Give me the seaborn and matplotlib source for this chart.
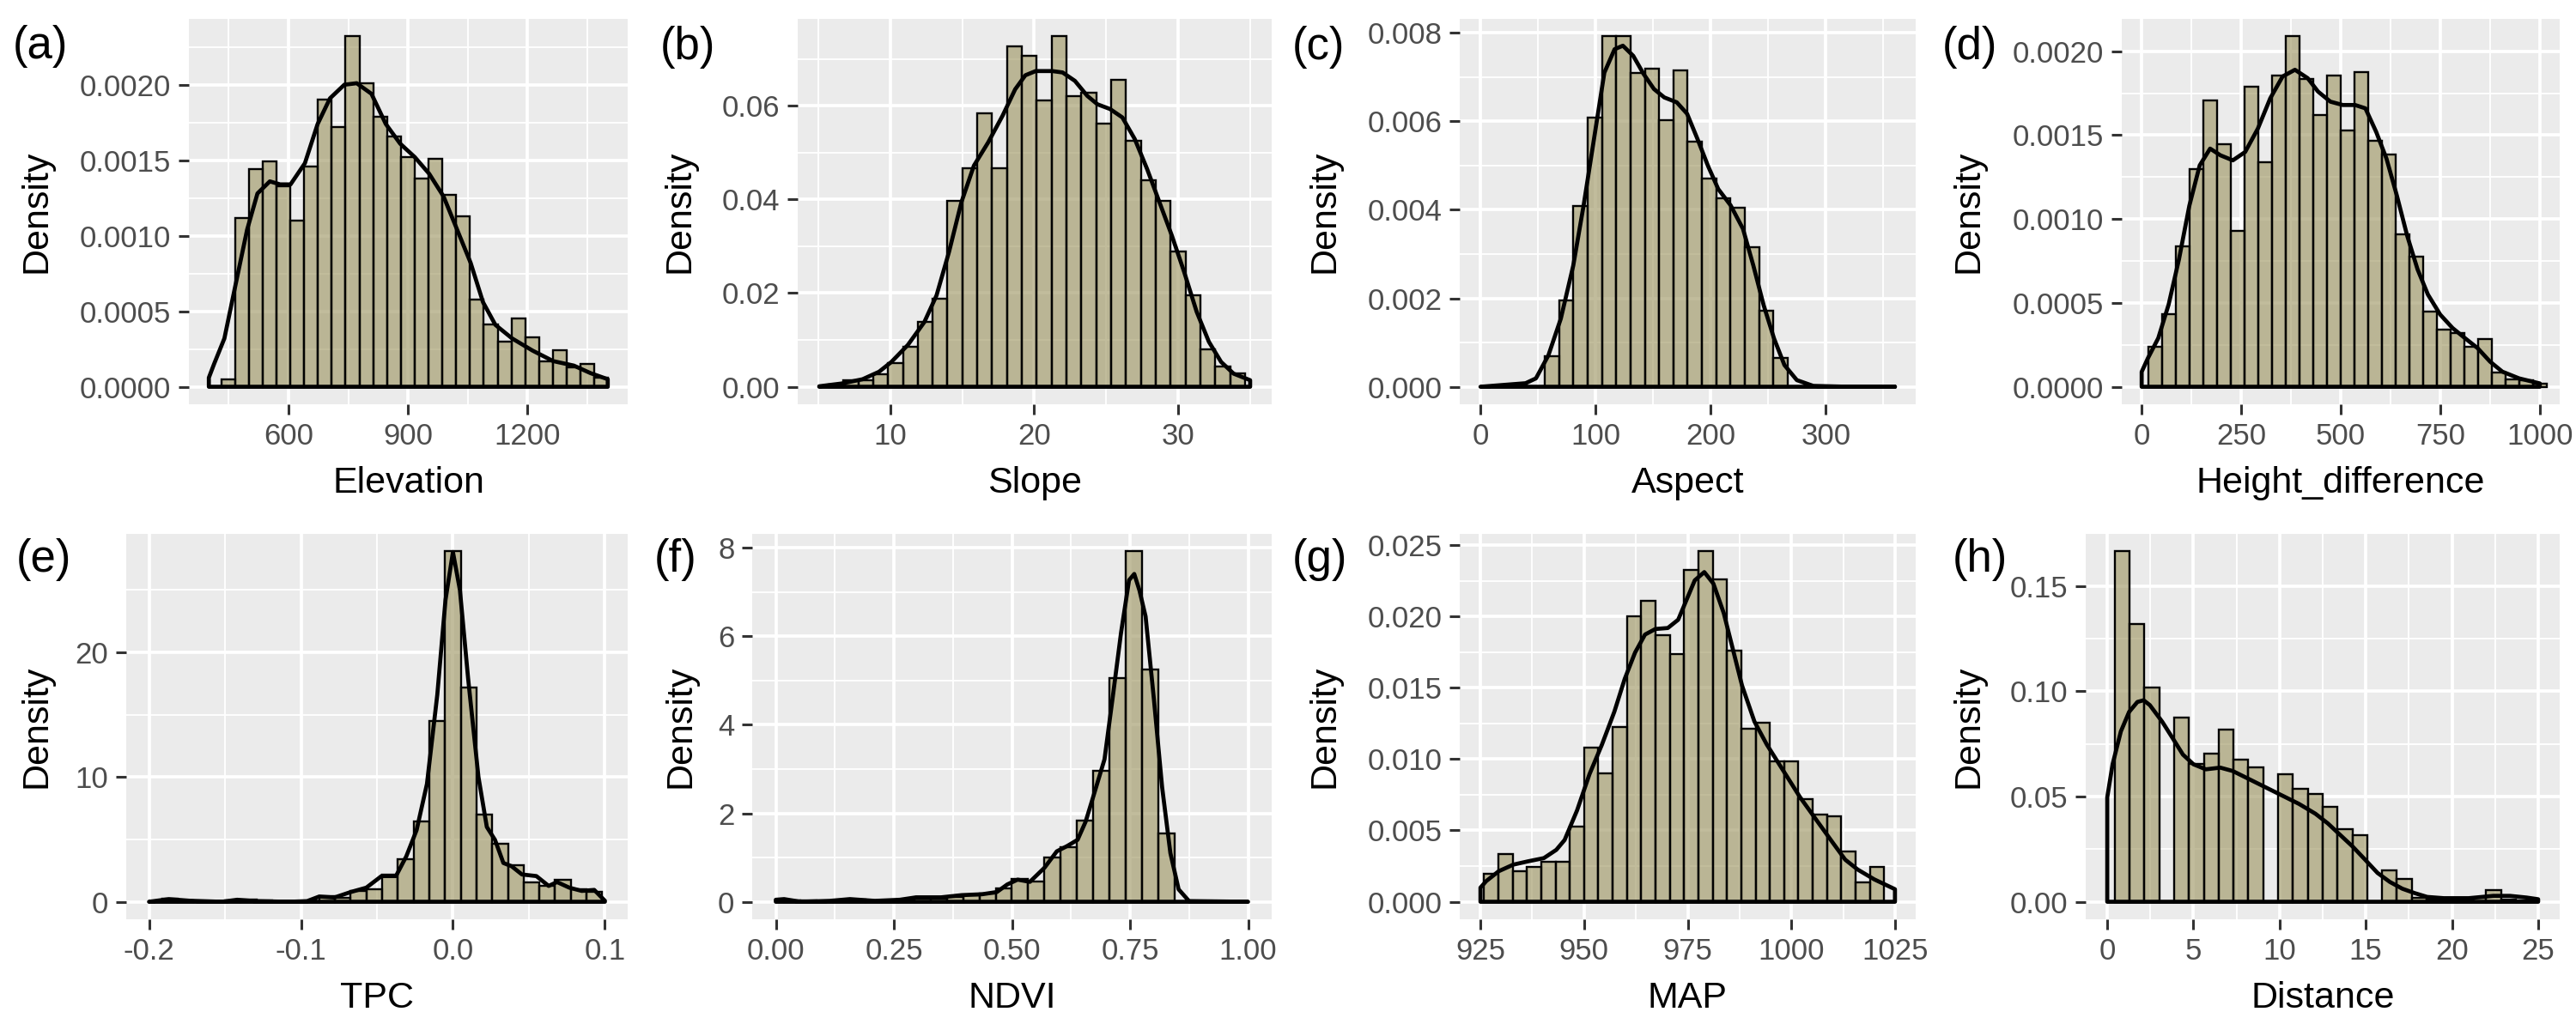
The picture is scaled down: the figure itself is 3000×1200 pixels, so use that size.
import numpy as np
import pandas as pd
import seaborn as sns
import matplotlib.pyplot as plt
from matplotlib.colors import to_rgba
from matplotlib.ticker import FixedLocator, FixedFormatter, MultipleLocator

# ---------------- values (density scale) ----------------
# (a) Elevation
elev_start, elev_width = 430.8, 34.7
elev_heights = [0.00005, 0.00112, 0.00144, 0.00149, 0.00133, 0.00110, 0.00146, 0.00190,
                0.00172, 0.00232, 0.00201, 0.00179, 0.00166, 0.00152, 0.00138, 0.00151,
                0.00127, 0.00113, 0.00058, 0.00041, 0.00030, 0.00045, 0.00033, 0.00017,
                0.00024, 0.00013, 0.00015, 0.00006]
elev_kde_x = [400, 413, 439, 465, 496, 522, 553, 579, 605, 641, 673, 704, 740, 771, 808,
              844, 880, 917, 953, 989, 1020, 1057, 1088, 1119, 1161, 1212, 1264, 1316, 1358, 1401]
elev_kde_y = [0.00006, 0.00015, 0.00032, 0.00065, 0.00104, 0.00128, 0.00136, 0.00134, 0.00134,
              0.00148, 0.00174, 0.00191, 0.00200, 0.00201, 0.00194, 0.00174, 0.00161, 0.00152,
              0.00141, 0.00126, 0.00106, 0.00082, 0.00056, 0.00041, 0.00032, 0.00024, 0.00017,
              0.00014, 0.00009, 0.00005]

# (b) Slope
slope_start, slope_width = 5.69, 1.0345
slope_heights = [0.0005, 0.0014, 0.0014, 0.0026, 0.0050, 0.0085, 0.0138, 0.0188, 0.0396, 0.0467,
                 0.0583, 0.0467, 0.0727, 0.0706, 0.0611, 0.0748, 0.0620, 0.0627, 0.0562, 0.0656,
                 0.0525, 0.0440, 0.0396, 0.0288, 0.0195, 0.0080, 0.0043, 0.0028]
slope_kde_x = [5.04, 6.61, 8.05, 9.2, 10.06, 11.2, 12.35, 13.2, 14.07, 14.93, 15.8, 16.8, 17.8,
               18.67, 19.38, 20.1, 21.25, 21.97, 22.83, 23.69, 24.4, 25.27, 26.13, 26.99, 27.85,
               28.71, 29.57, 30.43, 31.3, 32.15, 33.0, 33.87, 35.02]
slope_kde_y = [0.0001, 0.0007, 0.0016, 0.0032, 0.0053, 0.0089, 0.0138, 0.0195, 0.0288, 0.0394,
               0.0472, 0.0522, 0.0579, 0.0635, 0.0665, 0.0674, 0.0674, 0.0671, 0.0653, 0.0621,
               0.0603, 0.0593, 0.0575, 0.0529, 0.0465, 0.0394, 0.0323, 0.0245, 0.0160, 0.0096,
               0.0053, 0.0028, 0.0014]

# (c) Aspect
aspect_start, aspect_width = 55.86, 12.41
aspect_heights = [0.00070, 0.00195, 0.00409, 0.00608, 0.00792, 0.00792, 0.00709, 0.00720,
                  0.00602, 0.00716, 0.00554, 0.00471, 0.00427, 0.00405, 0.00316, 0.00172, 0.00065]
aspect_kde_x = [0, 19.4, 39.2, 48.2, 59, 69.8, 80.6, 89.6, 98.6, 107.6, 116.5, 123.7, 132.7,
                141.7, 150.7, 159.7, 170.5, 179.5, 188.5, 197.5, 206.5, 217.3, 228, 237, 246,
                255, 264, 274.8, 289, 320, 360]
aspect_kde_y = [0.0, 0.00004, 0.00008, 0.00019, 0.00071, 0.00154, 0.00274, 0.0041, 0.0056,
                0.0071, 0.00763, 0.00771, 0.00748, 0.00707, 0.00673, 0.00654, 0.00643, 0.00617,
                0.0056, 0.0050, 0.00447, 0.0041, 0.00357, 0.00274, 0.00184, 0.00109, 0.00049,
                0.00015, 0.00002, 0.0, 0.0]

# (d) Height_difference
hd_start, hd_width = 17.24, 34.48
hd_heights = [0.000238, 0.000433, 0.000839, 0.001296, 0.001706, 0.001446, 0.000929, 0.00179,
              0.00134, 0.001857, 0.002089, 0.001833, 0.001619, 0.001857, 0.00153, 0.001877,
              0.001468, 0.001383, 0.000907, 0.000778, 0.00045, 0.000341, 0.000321, 0.000238,
              0.000282, 0.000085, 0.000046, 0.00004, 0.00002]
hd_kde_x = [0, 15.6, 41.7, 67.7, 93.7, 119.8, 145.8, 171.9, 197.9, 229, 260, 292, 323, 354, 385,
            417, 443, 474, 505, 536, 562, 589, 615, 641, 667, 693, 719, 750, 781, 812, 844, 875,
            906, 948, 1000]
hd_kde_y = [0.000089, 0.00017, 0.00029, 0.00049, 0.00076, 0.00108, 0.00132, 0.00142, 0.00138,
            0.00135, 0.0014, 0.00154, 0.00172, 0.00185, 0.00189, 0.00184, 0.00176, 0.0017,
            0.00168, 0.00168, 0.00166, 0.00152, 0.00136, 0.00114, 0.0009, 0.0007, 0.00055,
            0.00043, 0.00035, 0.00029, 0.00023, 0.00015, 0.00009, 0.00005, 0.00002]

# (e) TPC
tpc_start, tpc_width = -0.19138, 0.010345
tpc_heights = [0.25, 0.1, 0.05, 0.03, 0.1, 0.2, 0.08, 0.03, 0.02, 0.05, 0.47, 0.34, 0.87, 1.0,
               2.19, 3.43, 6.41, 14.5, 28.1, 17.2, 7.0, 4.62, 2.9, 1.53, 1.27, 1.74, 1.0, 0.79]
tpc_kde_x = [-0.2, -0.187, -0.173, -0.152, -0.142, -0.13, -0.108, -0.096, -0.088, -0.078,
             -0.067, -0.057, -0.047, -0.0375, -0.0307, -0.0239, -0.0171, -0.0103, -0.0049, 0.0,
             0.0046, 0.01, 0.0168, 0.0223, 0.0277, 0.0332, 0.0386, 0.0454, 0.0549, 0.063,
             0.0685, 0.0766, 0.0848, 0.093, 0.1]
tpc_kde_y = [0.0, 0.21, 0.08, 0.0, 0.16, 0.05, 0.0, 0.05, 0.42, 0.34, 0.79, 1.13, 2.06, 2.06,
             3.64, 5.75, 9.45, 16.6, 24.2, 28.05, 25.0, 17.9, 10.0, 6.0, 4.96, 3.11, 2.85,
             2.19, 2.06, 1.27, 1.58, 1.13, 0.87, 0.95, 0.08]

# (f) NDVI
ndvi_start, ndvi_width = 0.01724, 0.03448
ndvi_heights = [0.04, 0.03, 0.02, 0.03, 0.05, 0.03, 0.03, 0.05, 0.06, 0.07, 0.10, 0.15, 0.19,
                0.30, 0.52, 0.45, 1.01, 1.23, 1.84, 2.97, 5.05, 7.92, 5.26, 1.55]
ndvi_kde_x = [0, 0.0175, 0.0525, 0.114, 0.157, 0.21, 0.2625, 0.297, 0.35, 0.394, 0.437, 0.468,
              0.49, 0.512, 0.538, 0.569, 0.595, 0.617, 0.639, 0.656, 0.674, 0.696, 0.713, 0.731,
              0.748, 0.759, 0.77, 0.783, 0.8005, 0.818, 0.8355, 0.853, 0.875, 1.0]
ndvi_kde_y = [0.045, 0.06, 0.0, 0.02, 0.06, 0.02, 0.045, 0.1, 0.1, 0.15, 0.17, 0.22, 0.39, 0.5,
              0.45, 0.77, 1.14, 1.26, 1.40, 1.81, 2.44, 3.22, 4.59, 6.08, 7.27, 7.41, 7.04,
              6.45, 4.59, 2.59, 1.10, 0.28, 0.015, 0.0]

# (g) MAP
map_start, map_width = 925.86, 3.448
map_heights = [0.00196, 0.00332, 0.00214, 0.00242, 0.00283, 0.00283, 0.0053, 0.01078, 0.00901,
               0.01228, 0.0200, 0.02108, 0.01866, 0.01735, 0.02327, 0.02456, 0.02258, 0.01758,
               0.01212, 0.01256, 0.00986, 0.00986, 0.00721, 0.00613, 0.00599, 0.00353, 0.00134,
               0.00242]
map_kde_x = [925, 926.4, 929.4, 932.9, 936.4, 940.3, 943.3, 945.3, 948.3, 951.3, 954.3, 957.3,
             959.8, 962.3, 964.7, 967.2, 970.2, 972.7, 974.7, 976.7, 979.0, 981.2, 983.7, 985.7,
             988.1, 991.1, 994.1, 998.1, 1002.1, 1006.1, 1010.1, 1013.0, 1016.0, 1020.0, 1025]
map_kde_y = [0.00099, 0.00145, 0.00214, 0.0026, 0.00283, 0.00306, 0.00364, 0.00433, 0.0064,
             0.00894, 0.01101, 0.01332, 0.01562, 0.01747, 0.01873, 0.01912, 0.01919, 0.01977,
             0.02115, 0.02253, 0.02311, 0.0223, 0.02023, 0.01793, 0.01516, 0.01263, 0.01101,
             0.00917, 0.00733, 0.00571, 0.0041, 0.00295, 0.00226, 0.00157, 0.00088]

# (h) Distance
dist_start, dist_width = 0.431, 0.862
dist_heights = [0.1664, 0.1321, 0.1019, 0.0, 0.0876, 0.0653, 0.0704, 0.0816, 0.0676, 0.0637,
                0.0, 0.0606, 0.0535, 0.0512, 0.045, 0.0343, 0.0317, 0.0, 0.0148, 0.0109, 0.002,
                0.001, 0.001, 0.0015, 0.002, 0.0055, 0.0012, 0.0008]
dist_kde_x = [0, 0.31, 0.79, 1.27, 1.75, 2.11, 2.47, 3.19, 3.91, 4.39, 5.0, 5.72, 6.56, 7.28,
              8.24, 9.2, 10.16, 11.12, 12.08, 12.8, 13.52, 14.24, 14.96, 15.68, 16.4, 17.12,
              17.84, 18.56, 19.52, 20.97, 22.4, 23.37, 24.33, 25]
dist_kde_y = [0.0496, 0.0653, 0.0809, 0.0902, 0.0949, 0.0957, 0.0934, 0.0855, 0.0762, 0.0699,
              0.0653, 0.0629, 0.0637, 0.0621, 0.0582, 0.0543, 0.0504, 0.0465, 0.0418, 0.0372,
              0.0317, 0.0262, 0.02, 0.0137, 0.0094, 0.0062, 0.0041, 0.0023, 0.0017, 0.0017,
              0.0028, 0.0028, 0.002, 0.0012]

# tick labels
elev_xt = ["600", "900", "1200"]
slope_xt = ["10", "20", "30"]
aspect_xt = ["0", "100", "200", "300"]
hd_xt = ["0", "250", "500", "750", "1000"]
tpc_xt = ["-0.2", "-0.1", "0.0", "0.1"]
ndvi_xt = ["0.00", "0.25", "0.50", "0.75", "1.00"]
map_xt = ["925", "950", "975", "1000", "1025"]
dist_xt = ["0", "5", "10", "15", "20", "25"]
elev_yt = ["0.0000", "0.0005", "0.0010", "0.0015", "0.0020"]
slope_yt = ["0.00", "0.02", "0.04", "0.06"]
aspect_yt = ["0.000", "0.002", "0.004", "0.006", "0.008"]
hd_yt = ["0.0000", "0.0005", "0.0010", "0.0015", "0.0020"]
tpc_yt = ["0", "10", "20"]
ndvi_yt = ["0", "2", "4", "6", "8"]
map_yt = ["0.000", "0.005", "0.010", "0.015", "0.020", "0.025"]
dist_yt = ["0.00", "0.05", "0.10", "0.15"]

panels = [
    ("(a)", "Elevation", elev_start, elev_width, elev_heights, elev_kde_x, elev_kde_y, elev_xt, elev_yt, 150, 0.00025),
    ("(b)", "Slope", slope_start, slope_width, slope_heights, slope_kde_x, slope_kde_y, slope_xt, slope_yt, 5, 0.01),
    ("(c)", "Aspect", aspect_start, aspect_width, aspect_heights, aspect_kde_x, aspect_kde_y, aspect_xt, aspect_yt, 50, 0.001),
    ("(d)", "Height_difference", hd_start, hd_width, hd_heights, hd_kde_x, hd_kde_y, hd_xt, hd_yt, 125, 0.00025),
    ("(e)", "TPC", tpc_start, tpc_width, tpc_heights, tpc_kde_x, tpc_kde_y, tpc_xt, tpc_yt, 0.05, 5),
    ("(f)", "NDVI", ndvi_start, ndvi_width, ndvi_heights, ndvi_kde_x, ndvi_kde_y, ndvi_xt, ndvi_yt, 0.125, 1),
    ("(g)", "MAP", map_start, map_width, map_heights, map_kde_x, map_kde_y, map_xt, map_yt, 12.5, 0.0025),
    ("(h)", "Distance", dist_start, dist_width, dist_heights, dist_kde_x, dist_kde_y, dist_xt, dist_yt, 2.5, 0.025),
]

# panel boxes in pixels (left, right, top, bottom) and tag positions
W, H = 3000, 1200
boxes = [(220, 731, 22, 471), (929, 1481, 22, 471), (1700, 2231, 22, 471), (2471, 2981, 22, 471),
         (147, 731, 622, 1071), (876, 1481, 622, 1071), (1700, 2231, 622, 1071), (2429, 2981, 622, 1071)]
tag_pos = [(15, 54), (769, 55), (1505, 55), (2262, 55), (19, 652), (762, 652), (1505, 652), (2274, 652)]

# khaki fill, semi-transparent so the white grid shows faintly through
FILL = to_rgba("#9C9460", 0.62)

sns.set_theme(style="darkgrid", rc={"axes.facecolor": "#EBEBEB", "grid.color": "white"})
plt.rcParams["font.family"] = ["Liberation Sans", "DejaVu Sans"]
plt.rcParams["axes.unicode_minus"] = False

fig = plt.figure(figsize=(30, 12), dpi=100)

for i, (tag, xlab, start, width, heights, kx, ky, xt, yt, mx, my) in enumerate(panels):
    l, r, t, b = boxes[i]
    ax = fig.add_axes([l / W, 1 - b / H, (r - l) / W, (b - t) / H])
    edges = [start + width * k for k in range(len(heights) + 1)]
    df = pd.DataFrame({"value": [(edges[k] + edges[k + 1]) / 2 for k in range(len(heights))],
                       "density": heights})
    sns.histplot(data=df, x="value", weights="density", bins=edges, stat="count",
                 color="#9C9460", edgecolor="black", linewidth=1.7, ax=ax)
    for p in ax.patches:
        p.set_facecolor(FILL)
        p.set_edgecolor("black")
        p.set_alpha(None)
    ax.fill_between(kx, 0, ky, facecolor="none", edgecolor="black", linewidth=3.4, zorder=3)

    lo, hi = min(kx), max(kx)
    ax.set_xlim(lo - 0.05 * (hi - lo), hi + 0.05 * (hi - lo))
    ymax = max(max(heights), max(ky))
    ax.set_ylim(-0.05 * ymax, 1.05 * ymax)

    ax.xaxis.set_major_locator(FixedLocator([float(s) for s in xt]))
    ax.xaxis.set_major_formatter(FixedFormatter(xt))
    ax.yaxis.set_major_locator(FixedLocator([float(s) for s in yt]))
    ax.yaxis.set_major_formatter(FixedFormatter(yt))
    ax.xaxis.set_minor_locator(MultipleLocator(mx))
    ax.yaxis.set_minor_locator(MultipleLocator(my))

    ax.set_axisbelow(True)
    ax.grid(which="major", color="white", linewidth=2.7)
    ax.grid(which="minor", color="white", linewidth=1.3)
    for s in ax.spines.values():
        s.set_visible(False)
    ax.tick_params(which="major", length=8.3, width=2.2, color="#333333",
                   labelsize=25, labelcolor="#4D4D4D", pad=6.5, bottom=True, left=True)
    ax.tick_params(which="minor", length=0)

    ax.set_xlabel(xlab, fontsize=31, color="black", va="center")
    ax.xaxis.set_label_coords(0.5, -92 / (b - t))
    ax.set_ylabel("Density", fontsize=31, color="black", va="center")
    cell_left = (i % 4) * 750
    ax.yaxis.set_label_coords((cell_left + 42 - l) / (r - l), 0.5)

    tx, ty = tag_pos[i]
    fig.text(tx / W, 1 - ty / H, tag, fontsize=38, ha="left", va="center", color="black")

fig.savefig("out.png", dpi=100, facecolor="white")
